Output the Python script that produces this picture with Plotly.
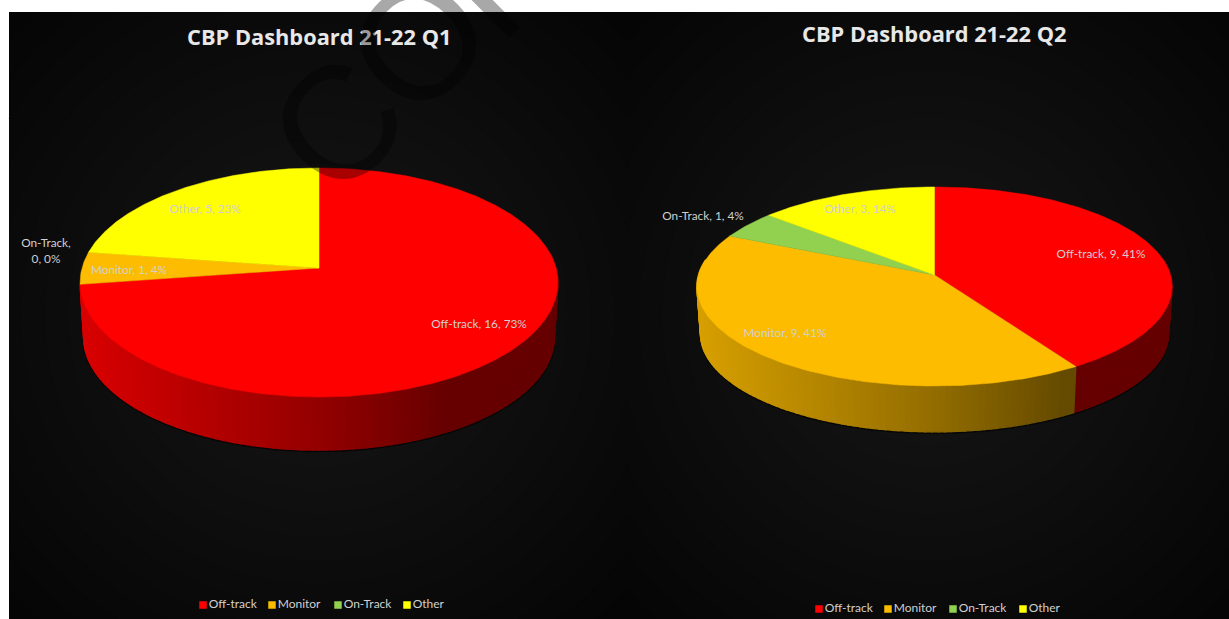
import numpy as np
import plotly.graph_objects as go

categories = ["Off-track", "Monitor", "On-Track", "Other"]
q1_values = [16, 1, 0, 5]
q2_values = [9, 9, 1, 3]
q1_percent = [73, 4, 0, 23]
q2_percent = [41, 41, 4, 14]
q1_title = "CBP Dashboard 21-22 Q1"
q2_title = "CBP Dashboard 21-22 Q2"
colors = ["#FF0000", "#FDBC00", "#92D050", "#FFFF00"]

W, H = 1229, 619
LABEL_FONT = "Lato"
TEXT = "#D0D0D0"

fig = go.Figure()


def hex_rgb(c):
    return [int(c[i:i + 2], 16) for i in (1, 3, 5)]


def project(theta, g, lower=False):
    X, Y = np.sin(theta), np.cos(theta)
    den = 1 + g["k"] * Y
    u = g["a"] * X / den
    v = g["c"] * Y / den
    if lower:
        return g["cx"] + u * g["shrink"], g["cy"] - v * g["shrink"] + g["depth"]
    return g["cx"] + u, g["cy"] - v


def add_poly(xs, ys, color, lw=0.6):
    xs, ys = list(xs) + [xs[0]], list(ys) + [ys[0]]
    fig.add_trace(go.Scatter(x=xs, y=ys, mode="lines", fill="toself", fillcolor=color,
                             line=dict(color=color, width=lw), hoverinfo="skip", showlegend=False))


def draw_pie(values, g):
    total = sum(values)
    edges = np.cumsum([0] + values) / total * 2 * np.pi
    wall_start, wall_end = np.pi * 0.45, g["wall_end"] * np.pi
    th = np.linspace(wall_start, wall_end, 200)
    lx, ly = project(th, g, lower=True)
    fig.add_trace(go.Scatter(x=lx, y=ly + 1, mode="lines", line=dict(color="rgba(0,0,0,0.6)", width=2.5),
                             hoverinfo="skip", showlegend=False))
    for v, a0, a1, col in zip(values, edges[:-1], edges[1:], colors):
        if v == 0:
            continue
        lo, hi = max(a0, wall_start), min(a1, wall_end)
        if hi <= lo:
            continue
        n = max(2, int((hi - lo) / 0.025))
        ts = np.linspace(lo, hi, n + 1)
        rgb = hex_rgb(col)
        for t0, t1 in zip(ts[:-1], ts[1:]):
            seg = np.array([t0, t1])
            ux, uy = project(seg, g)
            dx, dy = project(seg, g, lower=True)
            rel = (ux.mean() - g["cx"]) / g["a"]
            s = np.interp(rel, [-1, 0, 0.55, 1], [0.85, 0.58, 0.40, 0.40])
            shade = "rgb(%d,%d,%d)" % tuple(int(c * s) for c in rgb)
            add_poly(list(ux) + list(dx[::-1]), list(uy) + list(dy[::-1]), shade, lw=1.4)
    for v, a0, a1, col in zip(values, edges[:-1], edges[1:], colors):
        if v == 0:
            continue
        ts = np.linspace(a0, a1, max(3, int((a1 - a0) / 0.01)))
        ex, ey = project(ts, g)
        add_poly([g["cx"]] + list(ex), [g["cy"]] + list(ey), col, lw=0.5)


def add_labels(cats, vals, pcts, pos):
    for c, v, p, (x, y, two) in zip(cats, vals, pcts, pos):
        sep = ",<br>" if two else ", "
        fig.add_trace(go.Scatter(x=[x], y=[y], mode="text", text=[f"{c}{sep}{v}, {p}%"],
                                 textposition="middle center",
                                 textfont=dict(family=LABEL_FONT, size=11.8, color=TEXT),
                                 hoverinfo="skip", showlegend=False))


def add_legend(xs, y):
    fig.add_trace(go.Scatter(x=xs, y=[y] * 4, mode="markers+text", text=categories, textposition="middle right",
                             textfont=dict(family=LABEL_FONT, size=12, color=TEXT),
                             marker=dict(symbol="square", size=7.5, color=colors, line=dict(width=0)),
                             hoverinfo="skip", showlegend=False))


# panels with a soft radial glow, built from nested ellipses clipped to each panel
shapes = []
for (x0, x1) in [(9, 627), (627, 1229)]:
    y0, y1 = 12, 619
    shapes.append(dict(type="rect", x0=x0, x1=x1, y0=y0, y1=y1, fillcolor="#050505", line_width=0, layer="below"))
    mx, my = (x0 + x1) / 2, (y0 + y1) / 2
    ang = np.linspace(0, 2 * np.pi, 240, endpoint=False)
    for level in range(6, 24):
        f = (23.5 - level) / 13
        px = np.clip(mx + (x1 - x0) / 2 * f * np.cos(ang), x0, x1)
        py = np.clip(my + (y1 - y0) / 2 * f * np.sin(ang), y0, y1)
        path = "M " + " L ".join(f"{a:.1f},{b:.1f}" for a, b in zip(px, py)) + " Z"
        shapes.append(dict(type="path", path=path, fillcolor=f"rgb({level},{level},{level})",
                           line_width=0, layer="below"))

geo1 = dict(cx=319, cy=268, a=237, c=112.7, k=0.1266, shrink=0.985, depth=55, wall_end=1.454)
geo2 = dict(cx=934.5, cy=275, a=236, c=98.2, k=0.1155, shrink=0.985, depth=47.5, wall_end=1.55)
draw_pie(q1_values, geo1)
draw_pie(q2_values, geo2)

add_labels(categories, q1_values, q1_percent,
           [(479, 325, False), (129, 271, False), (46, 252, True), (205, 210, False)])
add_labels(categories, q2_values, q2_percent,
           [(1101, 255, False), (785, 334, False), (703, 217, False), (860, 210, False)])
add_legend([203, 272, 338, 407], 605)
add_legend([819, 888, 953, 1023], 609)

annotations = []
for txt, x, y in [(q1_title, 319, 36), (q2_title, 934, 33)]:
    annotations.append(dict(x=x, y=y, xref="x", yref="y", text=f"<b>{txt}</b>", showarrow=False,
                            font=dict(family="Open Sans", size=21.8, color="#E8E8E8")))
for ch, x, y in [("C", 337, 124), ("O", 418, 42), ("P", 498, -30)]:
    annotations.append(dict(x=x / W, y=1 - y / H, xref="paper", yref="paper", xanchor="center", yanchor="middle",
                            text=ch, showarrow=False, textangle=-45,
                            font=dict(family="Liberation Sans", size=160, color="rgba(0,0,0,0.34)")))

fig.update_layout(
    width=W, height=H, margin=dict(l=0, r=0, t=0, b=0), paper_bgcolor="white", plot_bgcolor="white",
    showlegend=False, shapes=shapes, annotations=annotations,
    xaxis=dict(range=[0, W], visible=False, fixedrange=True),
    yaxis=dict(range=[H, 0], visible=False, fixedrange=True),
)
fig.write_html("out.html", config=dict(displayModeBar=False),
               post_script="document.body.style.margin='0';document.body.style.overflow='hidden';")
